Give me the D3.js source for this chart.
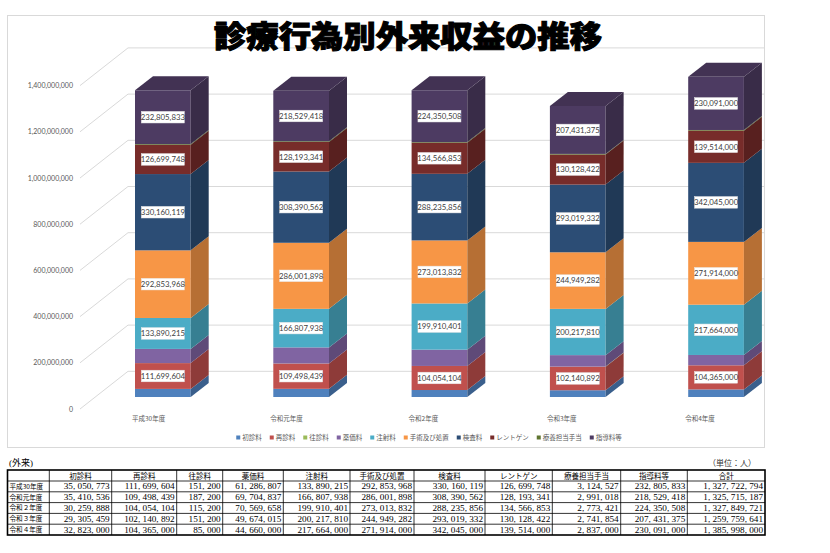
<!DOCTYPE html>
<html>
<head>
<meta charset="utf-8">
<script src="https://cdn.jsdelivr.net/npm/d3@7"></script>
<style>
  body { margin: 0; background: #fff; }
  svg { display: block; }
</style>
</head>
<body>
<svg id="chart" width="830" height="553"></svg>
<script>
// chart data
const categories = ["平成30年度", "令和元年度", "令和2年度", "令和3年度", "令和4年度"];
const rowLabels = ["平成30年度", "令和元年度", "令和２年度", "令和３年度", "令和４年度"];
const seriesNames = ["初診料", "再診料", "往診料", "薬価料", "注射料", "手術及び処置", "検査料", "レントゲン", "療養担当手当", "指導料等"];
const shoshin = [35050773, 35410536, 30259888, 29305459, 32823000];
const saishin = [111699604, 109498439, 104054104, 102140892, 104365000];
const oushin = [151200, 187200, 115200, 151200, 85000];
const yakka = [61286807, 69704837, 70569658, 49674015, 44660000];
const chusha = [133890215, 166807938, 199910401, 200217810, 217664000];
const shujutsu = [292853968, 286001898, 273013832, 244949282, 271914000];
const kensa = [330160119, 308390562, 288235856, 293019332, 342045000];
const rentgen = [126699748, 128193341, 134566853, 130128422, 139514000];
const ryoyo = [3124527, 2991018, 2773421, 2741854, 2837000];
const shido = [232805833, 218529418, 224350508, 207431375, 230091000];
const totals = [1327722794, 1325715187, 1327849721, 1259759641, 1385998000];
const yTicks = [0, 200000000, 400000000, 600000000, 800000000, 1000000000, 1200000000, 1400000000];

const seriesValues = [shoshin, saishin, oushin, yakka, chusha, shujutsu, kensa, rentgen, ryoyo, shido];
const colors = ["#4F81BD", "#C0504D", "#9BBB59", "#8064A2", "#4BACC6", "#F79646", "#2C4D75", "#772C2A", "#5F7530", "#4D3B62"];
const labelled = ["再診料", "注射料", "手術及び処置", "検査料", "レントゲン", "指導料等"];

const rows = categories.map((c, i) => {
  const r = { cat: c };
  seriesNames.forEach((s, j) => r[s] = seriesValues[j][i]);
  return r;
});

const svg = d3.select("#chart");
const fmt = d3.format(",");

// chart area frame
svg.append("rect")
  .attr("x", 7.5).attr("y", 15.5).attr("width", 757).attr("height", 432)
  .attr("fill", "#fff").attr("stroke", "#d9d9d9");

// 3d-ish geometry
const depthX = 48, depthY = 37.7;   // floor depth
const barDX = 18, barDY = 14;       // bar depth
const frontOff = 12;                // bar front sits above the floor front

const y = d3.scaleLinear().domain([0, 1400000000]).range([397, 73.6]);
const x = d3.scaleBand().domain(categories).range([93.7, 785.2]);
const barW = 55.7;
const barX = c => x(c) + (x.bandwidth() - barW) / 2;

// gridlines (side wall diagonal + back wall)
const grid = svg.append("g").attr("stroke", "#d9d9d9").attr("fill", "none");
yTicks.forEach(t => {
  const yf = y(t) + frontOff;
  const yb = yf - depthY;
  grid.append("path")
    .attr("d", `M80,${yf}L${80 + depthX},${yb}L765,${yb}`);
});

svg.append("g")
  .selectAll("text").data(yTicks).join("text")
  .attr("x", 73).attr("y", d => y(d) + frontOff + 2.5)
  .attr("text-anchor", "end")
  .attr("font-family", "Lato, sans-serif").attr("font-size", 7)
  .attr("fill", "#595959")
  .text(d => fmt(d));

// stacked bars
const stack = d3.stack().keys(seriesNames)(rows);
const bars = svg.append("g");
stack.forEach((layer, li) => {
  const col = d3.color(colors[li]);
  const g = bars.append("g");
  layer.forEach(d => {
    const x0 = barX(d.data.cat), x1 = x0 + barW;
    const yTop = y(d[1]), yBot = y(d[0]);
    g.append("rect")
      .attr("x", x0).attr("y", yTop).attr("width", barW).attr("height", Math.max(0, yBot - yTop))
      .attr("fill", col);
    g.append("path")
      .attr("d", `M${x1},${yTop}L${x1 + barDX},${yTop - barDY}L${x1 + barDX},${yBot - barDY}L${x1},${yBot}Z`)
      .attr("fill", col.darker(0.85));
  });
});
// top faces
const topLayer = stack[stack.length - 1];
bars.append("g").selectAll("path").data(topLayer).join("path")
  .attr("d", d => {
    const x0 = barX(d.data.cat), x1 = x0 + barW, yt = y(d[1]);
    return `M${x0},${yt}L${x0 + barDX},${yt - barDY}L${x1 + barDX},${yt - barDY}L${x1},${yt}Z`;
  })
  .attr("fill", d3.color(colors[colors.length - 1]).darker(0.45));

// data labels
const lab = svg.append("g");
stack.filter(l => labelled.includes(l.key)).forEach(layer => {
  layer.forEach(d => {
    const cx = barX(d.data.cat) + barW / 2;
    const cy = (y(d[0]) + y(d[1])) / 2;
    lab.append("rect")
      .attr("x", cx - 21.5).attr("y", cy - 5.8).attr("width", 43).attr("height", 11.6)
      .attr("fill", "#fff").attr("stroke", "#e6e6e6").attr("stroke-width", 0.5);
    lab.append("text")
      .attr("x", cx).attr("y", cy + 2.8)
      .attr("text-anchor", "middle")
      .attr("font-family", "Lato, sans-serif").attr("font-size", 7.8)
      .attr("fill", "#404040")
      .text(fmt(d.data[layer.key]));
  });
});

// category labels
svg.append("g").selectAll("text").data(categories).join("text")
  .attr("x", d => barX(d) - 3).attr("y", 421)
  .attr("font-family", "'Noto Sans CJK JP', sans-serif").attr("font-size", 6.5)
  .attr("fill", "#595959")
  .text(d => d);

// title
svg.append("text")
  .attr("x", 408).attr("y", 47)
  .attr("text-anchor", "middle")
  .attr("font-family", "'Noto Sans CJK JP', sans-serif").attr("font-weight", 900)
  .attr("font-size", 30)
  .attr("textLength", 388).attr("lengthAdjust", "spacingAndGlyphs")
  .attr("fill", "#000").attr("stroke", "#000").attr("stroke-width", 1.1)
  .text("診療行為別外来収益の推移");

// legend
const leg = svg.append("g").attr("font-family", "'Noto Sans CJK JP', sans-serif").attr("font-size", 6.5).attr("fill", "#595959");
let lx = 0;
seriesNames.forEach((s, i) => {
  const it = leg.append("g").attr("transform", `translate(${lx},0)`);
  it.append("rect").attr("x", 0).attr("y", -4).attr("width", 4).attr("height", 4).attr("fill", colors[i]);
  const t = it.append("text").attr("x", 6).attr("y", 0).text(s);
  lx += 6 + t.node().getComputedTextLength() + 8;
});
leg.attr("transform", `translate(${429 - (lx - 8) / 2},439.5)`);

// table
const colEdges = [7.5, 49.3, 111.7, 176.7, 222.7, 283.3, 350, 414, 485, 552.3, 620.7, 687.3, 765];
const tTop = 470, headH = 11, rowH = 10.8;
const tBottom = tTop + headH + rowH * rows.length;
const tbl = svg.append("g");

svg.append("text").attr("x", 9).attr("y", 466)
  .attr("font-family", "'Liberation Serif', 'Noto Sans CJK JP', serif").attr("font-size", 9)
  .text("(外来)");
svg.append("text").attr("x", 756).attr("y", 466).attr("text-anchor", "end")
  .attr("font-family", "'Liberation Serif', 'Noto Sans CJK JP', serif").attr("font-size", 8).attr("fill", "#333")
  .text("（単位：人）");

colEdges.slice(1, -1).forEach(cx => {
  tbl.append("line").attr("x1", cx).attr("x2", cx).attr("y1", tTop).attr("y2", tBottom)
    .attr("stroke", "#000").attr("stroke-width", 0.8);
});
d3.range(rows.length).forEach(i => {
  const ly = tTop + headH + rowH * i;
  tbl.append("line").attr("x1", colEdges[0]).attr("x2", colEdges[colEdges.length - 1])
    .attr("y1", ly).attr("y2", ly).attr("stroke", "#000").attr("stroke-width", 0.8);
});
tbl.append("rect").attr("x", colEdges[0]).attr("y", tTop)
  .attr("width", colEdges[colEdges.length - 1] - colEdges[0]).attr("height", tBottom - tTop)
  .attr("fill", "none").attr("stroke", "#000").attr("stroke-width", 1.6);

const headers = [""].concat(seriesNames, ["合計"]);
tbl.selectAll("text.h").data(headers).join("text")
  .attr("class", "h")
  .attr("x", (d, i) => (colEdges[i] + colEdges[i + 1]) / 2).attr("y", tTop + 8.5)
  .attr("text-anchor", "middle")
  .attr("font-family", "'Noto Sans CJK JP', serif").attr("font-size", 7.5)
  .text(d => d);

rows.forEach((r, i) => {
  const by = tTop + headH + rowH * i + 8.4;
  tbl.append("text").attr("x", colEdges[0] + 2).attr("y", by - 0.6)
    .attr("font-family", "'Noto Sans CJK JP', serif").attr("font-size", 6.6)
    .text(rowLabels[i]);
  const vals = seriesValues.map(s => s[i]).concat([totals[i]]);
  vals.forEach((v, j) => {
    tbl.append("text").attr("x", colEdges[j + 2] - 2).attr("y", by)
      .attr("text-anchor", "end")
      .attr("font-family", "'Liberation Serif', serif").attr("font-size", 9.2)
      .text(fmt(v).replace(/,/g, ", "));
  });
});
</script>
</body>
</html>
